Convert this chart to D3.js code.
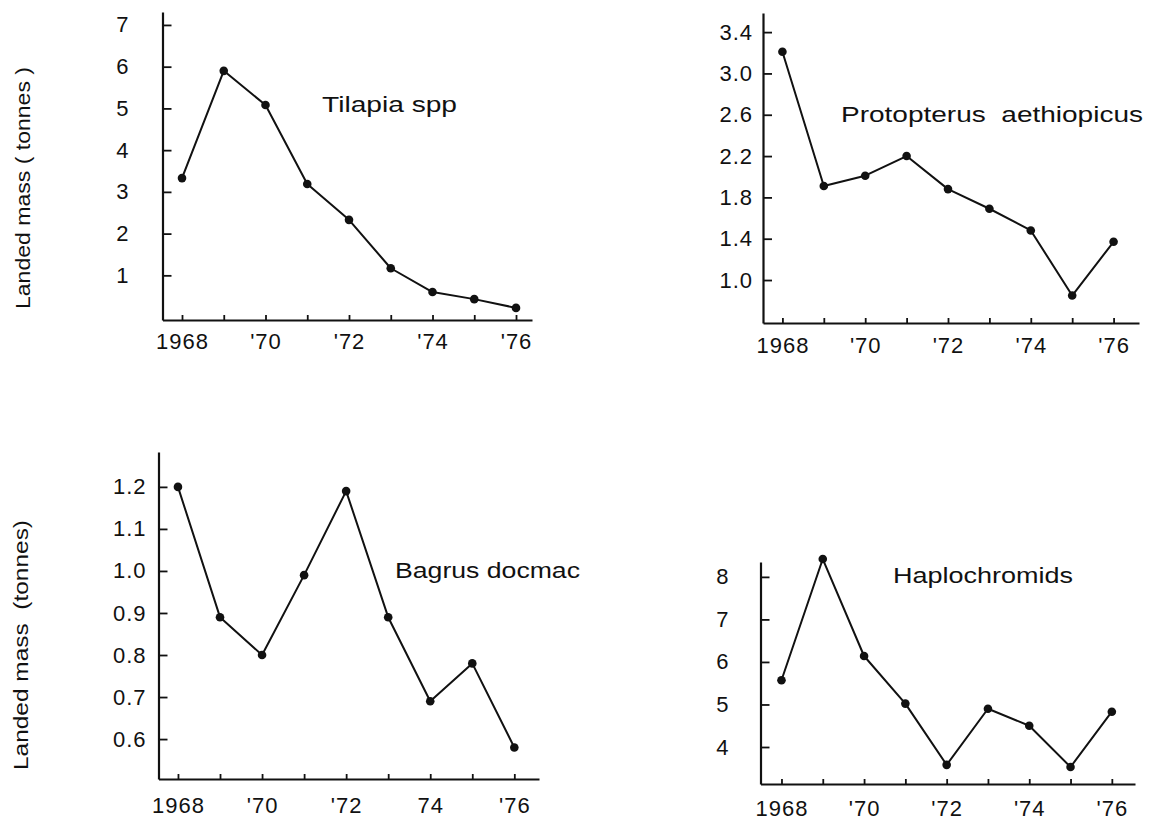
<!DOCTYPE html>
<html>
<head>
<meta charset="utf-8">
<script src="https://cdn.jsdelivr.net/npm/d3@7"></script>
<style>
  html, body { margin: 0; padding: 0; background: #fff; }
  svg { display: block; }
  text { font-family: "Liberation Sans", Arial, sans-serif; fill: #111; }
</style>
</head>
<body>
<script>
// Annual landings of four fish groups, 1968-1976 (tonnes)
const years = [1968, 1969, 1970, 1971, 1972, 1973, 1974, 1975, 1976];
const labelledYears = [1968, 1970, 1972, 1974, 1976];
const yearLabels = ["1968", "'70", "'72", "'74", "'76"];
const yearLabelsBagrus = ["1968", "'70", "'72", "74", "'76"];

const tilapia = [3.33, 5.90, 5.08, 3.19, 2.33, 1.17, 0.60, 0.43, 0.22];
const protopterus = [3.21, 1.91, 2.01, 2.20, 1.88, 1.69, 1.48, 0.85, 1.37];
const bagrus = [1.20, 0.89, 0.80, 0.99, 1.19, 0.89, 0.69, 0.78, 0.58];
const haplochromids = [5.57, 8.42, 6.14, 5.02, 3.58, 4.90, 4.50, 3.53, 4.83];

const tilapiaTicks = [1, 2, 3, 4, 5, 6, 7];
const protopterusTicks = [1.0, 1.4, 1.8, 2.2, 2.6, 3.0, 3.4];
const bagrusTicks = [0.6, 0.7, 0.8, 0.9, 1.0, 1.1, 1.2];
const haplochromidsTicks = [4, 5, 6, 7, 8];

const yTitleTop = "Landed mass ( tonnes )";
const yTitleBottom = "Landed mass  (tonnes)";

// Panel layout: axis extents in data units and the pixel box they span
const panels = [
  { name: "Tilapia spp", values: tilapia, yTicks: tilapiaTicks, yFmt: d3.format("d"), xLabels: yearLabels,
    xDomain: [1967.533, 1976.383], yDomain: [-0.07, 7.31],
    left: 162.5, right: 532, top: 12, bottom: 320, yPad: 33, xPad: 13,
    titleX: 322, titleY: 112, titleLen: 135 },
  { name: "Protopterus  aethiopicus", values: protopterus, yTicks: protopterusTicks, yFmt: d3.format(".1f"), xLabels: yearLabels,
    xDomain: [1967.531, 1976.614], yDomain: [0.584, 3.585],
    left: 763, right: 1139, top: 13, bottom: 323, yPad: 10, xPad: 14,
    titleX: 841, titleY: 122, titleLen: 302 },
  { name: "Bagrus docmac", values: bagrus, yTicks: bagrusTicks, yFmt: d3.format(".1f"), xLabels: yearLabelsBagrus,
    xDomain: [1967.537, 1976.587], yDomain: [0.505, 1.283],
    left: 158.5, right: 539, top: 452, bottom: 779, yPad: 12, xPad: 18,
    titleX: 395, titleY: 578, titleLen: 185 },
  { name: "Haplochromids", values: haplochromids, yTicks: haplochromidsTicks, yFmt: d3.format("d"), xLabels: yearLabels,
    xDomain: [1967.492, 1976.561], yDomain: [3.13, 8.35],
    left: 760.5, right: 1135, top: 562, bottom: 784, yPad: 31, xPad: 16,
    titleX: 893, titleY: 583, titleLen: 180 }
];

const svg = d3.select("body").append("svg")
  .attr("width", 1157).attr("height", 824);

svg.append("rect").attr("width", 1157).attr("height", 824).attr("fill", "#fff");

function drawPanel(p) {
  const x = d3.scaleLinear().domain(p.xDomain).range([p.left, p.right]);
  const y = d3.scaleLinear().domain(p.yDomain).range([p.bottom, p.top]);
  const g = svg.append("g");

  const xLabelFor = d => {
    const i = labelledYears.indexOf(d);
    return i >= 0 ? p.xLabels[i] : "";
  };

  const xAxis = g.append("g")
    .attr("transform", `translate(0,${p.bottom})`)
    .call(d3.axisBottom(x).tickValues(years).tickSizeInner(-5).tickSizeOuter(0)
      .tickPadding(p.xPad).tickFormat(xLabelFor));

  const yAxis = g.append("g")
    .attr("transform", `translate(${p.left},0)`)
    .call(d3.axisLeft(y).tickValues(p.yTicks).tickSizeInner(-9).tickSizeOuter(0)
      .tickPadding(p.yPad).tickFormat(p.yFmt));

  [xAxis, yAxis].forEach(a => {
    a.attr("font-family", null).attr("font-size", null);
    a.select(".domain").attr("stroke", "#111").attr("stroke-width", 2.2);
    a.selectAll(".tick line").attr("stroke", "#111").attr("stroke-width", 1.8);
    a.selectAll(".tick text")
      .style("font-size", "22px")
      .style("letter-spacing", "1px")
      .attr("fill", "#111");
  });

  const pts = years.map((yr, i) => ({ year: yr, value: p.values[i] }));

  g.append("path")
    .datum(pts)
    .attr("fill", "none")
    .attr("stroke", "#111")
    .attr("stroke-width", 2)
    .attr("stroke-linejoin", "round")
    .attr("d", d3.line().x(d => x(d.year)).y(d => y(d.value)));

  g.selectAll("circle.pt")
    .data(pts)
    .join("circle")
    .attr("class", "pt")
    .attr("cx", d => x(d.year))
    .attr("cy", d => y(d.value))
    .attr("r", 4.3)
    .attr("fill", "#111");

  g.append("text")
    .attr("x", p.titleX)
    .attr("y", p.titleY)
    .attr("textLength", p.titleLen)
    .attr("lengthAdjust", "spacingAndGlyphs")
    .style("font-size", "22px")
    .style("white-space", "pre")
    .text(p.name);
}

panels.forEach(drawPanel);

// Shared y-axis titles on the left
function yTitle(txt, cx, cy, len) {
  svg.append("text")
    .attr("transform", `translate(${cx},${cy}) rotate(-90)`)
    .attr("text-anchor", "middle")
    .attr("textLength", len)
    .attr("lengthAdjust", "spacingAndGlyphs")
    .style("font-size", "21px")
    .style("white-space", "pre")
    .text(txt);
}
yTitle(yTitleTop, 30, 188, 242);
yTitle(yTitleBottom, 28, 645, 250);
</script>
</body>
</html>
